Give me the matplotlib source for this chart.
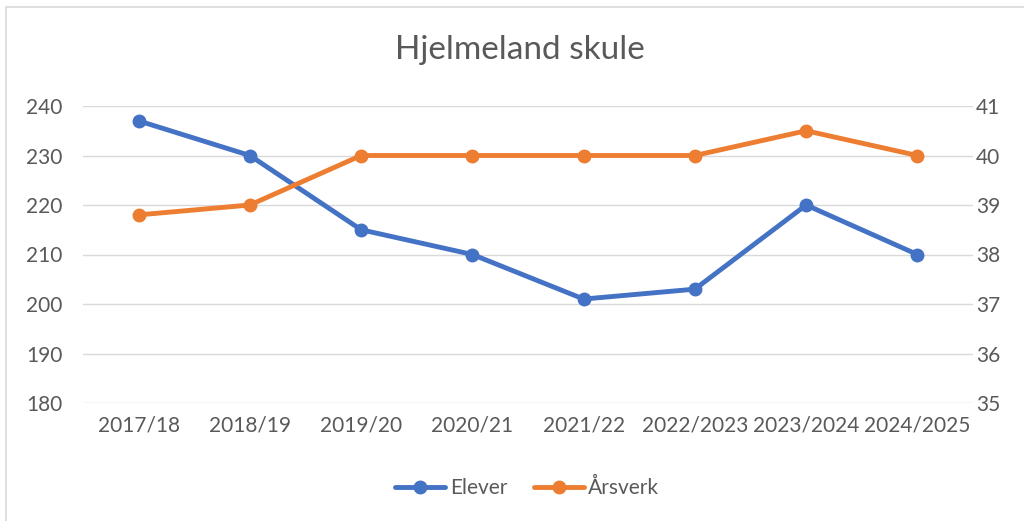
import matplotlib.pyplot as plt
from matplotlib.patches import Rectangle

# data
years = ['2017/18', '2018/19', '2019/20', '2020/21', '2021/22',
         '2022/2023', '2023/2024', '2024/2025']
elever = [237, 230, 215, 210, 201, 203, 220, 210]
arsverk = [38.8, 39.0, 40.0, 40.0, 40.0, 40.0, 40.5, 40.0]

left_ticks = [180, 190, 200, 210, 220, 230, 240]
right_ticks = [35, 36, 37, 38, 39, 40, 41]

blue = '#4472c4'
orange = '#ed7d31'
txt = '#595959'
grid = '#d9d9d9'

plt.rcParams['font.family'] = ['Lato', 'DejaVu Sans']

fig = plt.figure(figsize=(10.24, 5.21), dpi=100)
fig.patches.append(Rectangle((6 / 1024, -0.05), 1.1, 1 - 7 / 521 + 0.05,
                             transform=fig.transFigure, fill=False,
                             edgecolor=grid, linewidth=1.2))

ax = fig.add_axes([83 / 1024, 1 - 403 / 521, 890 / 1024, 297 / 521])
ax2 = ax.twinx()

x = range(len(years))
ax.plot(x, elever, color=blue, linewidth=3.5, marker='o', markersize=9,
        label='Elever', solid_capstyle='round', zorder=3)
ax2.plot(x, arsverk, color=orange, linewidth=3.5, marker='o', markersize=9,
         label='Årsverk', solid_capstyle='round', zorder=3)

ax.set_xlim(-0.5, len(years) - 0.5)
ax.set_ylim(180, 240)
ax2.set_ylim(35, 41)
ax.set_yticks(left_ticks)
ax2.set_yticks(right_ticks)
ax.set_xticks(list(x))
ax.set_xticklabels(years)

ax.grid(axis='y', color=grid, linewidth=1)
ax.set_axisbelow(True)
for a in (ax, ax2):
    for s in a.spines.values():
        s.set_visible(False)
    a.tick_params(length=0, labelsize=15, colors=txt)
ax.tick_params(axis='y', pad=15)
ax2.tick_params(axis='y', pad=2)
ax.tick_params(axis='x', pad=9)

fig.text(0.508, 1 - 50 / 521, 'Hjelmeland skule', ha='center', va='center',
         fontsize=24, color=txt)

h1, l1 = ax.get_legend_handles_labels()
h2, l2 = ax2.get_legend_handles_labels()
fig.legend(h1 + h2, l1 + l2, loc='center', bbox_to_anchor=(0.515, 1 - 488 / 521),
           ncol=2, frameon=False, fontsize=15, labelcolor=txt,
           handlelength=2.4, handletextpad=0.2, columnspacing=1.3)

fig.savefig('out.png', dpi=100)
